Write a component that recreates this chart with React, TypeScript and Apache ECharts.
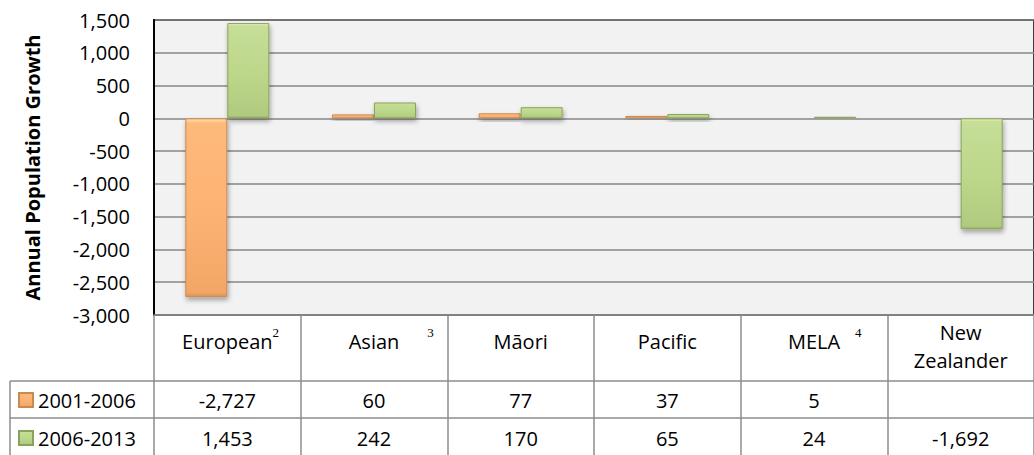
import React, { useEffect, useRef } from "react";
import * as echarts from "echarts";

const categories = ["European", "Asian", "Māori", "Pacific", "MELA", "New\nZealander"];
const footnotes = ["2", "3", "", "", "4", ""];
const seriesNames = ["2001-2006", "2006-2013"];
const values2001 = [-2727, 60, 77, 37, 5, null];
const values2006 = [1453, 242, 170, 65, 24, -1692];
const yMin = -3000;
const yMax = 1500;
const yInterval = 500;

const FONT = "Open Sans";
const GRID_LINE = "#868686";
const TABLE_LINE = "#8C8C8C";

// gap between word and its footnote mark (layout only)
const footGap: Record<string, number> = { "2": 0, "3": 28, "4": 15 };

const fmt = (v: number | null) => (v === null || v === undefined ? "" : v.toLocaleString("en-US"));

const orange = new echarts.graphic.LinearGradient(0, 0, 0, 1, [
  { offset: 0, color: "#FFE3AA" },
  { offset: 0.025, color: "#FDB97B" },
  { offset: 0.5, color: "#FDB374" },
  { offset: 0.975, color: "#F2A766" },
  { offset: 1, color: "#D99358" },
]);
const green = new echarts.graphic.LinearGradient(0, 0, 0, 1, [
  { offset: 0, color: "#EAF5C0" },
  { offset: 0.025, color: "#C6DE97" },
  { offset: 0.5, color: "#BDD78B" },
  { offset: 0.975, color: "#B0CA7F" },
  { offset: 1, color: "#98B268" },
]);

export default function App() {
  const ref = useRef<HTMLDivElement>(null);
  useEffect(() => {
    if (!ref.current) return;
    const chart = echarts.init(ref.current, null, { renderer: "svg" });

    const rich: any = {
      c: { fontSize: 20, fontFamily: FONT, color: "#000", lineHeight: 21, padding: [0, 0, 11, 0] },
      n: { fontSize: 20, fontFamily: FONT, color: "#000", lineHeight: 28 },
    };
    categories.forEach((_, i) => {
      const f = footnotes[i];
      if (!f) return;
      const gap = footGap[f] ?? 0;
      const w = gap + 6.5;
      rich["s" + i] = {
        fontSize: 13,
        fontFamily: "Liberation Serif",
        color: "#000",
        lineHeight: 13,
        padding: [0, 0, 28, gap],
      };
      rich["l" + i] = { width: w, fontSize: 13, lineHeight: 13 };
    });

    const catFormatter = (_v: string, i: number) => {
      const name = categories[i];
      if (name.includes("\n")) {
        return name
          .split("\n")
          .map((p) => `{n|${p}}`)
          .join("\n");
      }
      const f = footnotes[i];
      if (f) return `{l${i}| }{c|${name}}{s${i}|${f}}`;
      return `{c|${name}}`;
    };

    const rowAxis = (vals: (number | null)[], offset: number, margin: number) => ({
      type: "category",
      gridIndex: 0,
      position: "bottom",
      offset,
      data: categories,
      axisLine: { show: true, onZero: false, lineStyle: { color: TABLE_LINE, width: 1.5 } },
      axisTick: { show: false },
      axisLabel: {
        interval: 0,
        margin,
        verticalAlign: "middle",
        fontSize: 20,
        fontFamily: FONT,
        color: "#000",
        formatter: (_v: string, i: number) => fmt(vals[i]),
      },
      splitLine: { show: false },
    });

    chart.setOption({
      animation: false,
      backgroundColor: "#fff",
      textStyle: { fontFamily: FONT },
      grid: {
        left: 154,
        right: -14,
        top: 20,
        bottom: 140,
        show: true,
        backgroundColor: "#F2F2F2",
        borderColor: "#000",
        borderWidth: 1.5,
      },
      legend: {
        orient: "vertical",
        left: 18,
        top: 388,
        height: 120,
        padding: 0,
        itemWidth: 14,
        itemHeight: 14,
        itemGap: 14,
        icon: "rect",
        data: seriesNames,
        textStyle: { fontSize: 20, fontFamily: FONT, color: "#000", lineHeight: 24 },
      },
      xAxis: [
        {
          type: "category",
          gridIndex: 0,
          position: "bottom",
          data: categories,
          axisLine: { show: true, onZero: false, lineStyle: { color: GRID_LINE, width: 1.5 } },
          axisTick: { show: true, length: 141, interval: 0, lineStyle: { color: TABLE_LINE, width: 1.5 } },
          axisLabel: {
            interval: 0,
            margin: 31.5,
            verticalAlign: "middle",
            align: "center",
            formatter: catFormatter,
            rich,
          },
          splitLine: { show: false },
        },
        rowAxis(values2001, 66, 19),
        rowAxis(values2006, 103, 20),
      ],
      yAxis: {
        type: "value",
        min: yMin,
        max: yMax,
        interval: yInterval,
        name: "Annual Population Growth",
        nameLocation: "middle",
        nameRotate: 90,
        nameGap: 112,
        nameTextStyle: { fontSize: 20, fontWeight: "bold", fontFamily: FONT, color: "#000" },
        axisLine: { show: true, onZero: false, lineStyle: { color: "#000", width: 2 } },
        axisTick: { show: false },
        axisLabel: {
          margin: 24,
          fontSize: 20,
          fontFamily: FONT,
          color: "#000",
          formatter: (v: number) => fmt(v),
        },
        splitLine: { show: true, lineStyle: { color: GRID_LINE, width: 1.5 } },
      },
      series: [
        {
          name: seriesNames[0],
          type: "bar",
          xAxisIndex: 0,
          data: values2001,
          barWidth: 42,
          barGap: "0%",
          itemStyle: {
            color: orange,
            borderColor: "#C98A52",
            borderWidth: 1,
            shadowColor: "rgba(0,0,0,0.35)",
            shadowBlur: 5,
            shadowOffsetX: 1,
            shadowOffsetY: 3,
          },
        },
        {
          name: seriesNames[1],
          type: "bar",
          xAxisIndex: 0,
          data: values2006,
          barWidth: 42,
          barGap: "0%",
          itemStyle: {
            color: green,
            borderColor: "#8AA35A",
            borderWidth: 1,
            shadowColor: "rgba(0,0,0,0.35)",
            shadowBlur: 5,
            shadowOffsetX: 1,
            shadowOffsetY: 3,
          },
        },
      ],
      graphic: [
        { type: "line", shape: { x1: 10, y1: 381, x2: 154, y2: 381 }, style: { stroke: TABLE_LINE, lineWidth: 1.5 } },
        { type: "line", shape: { x1: 10, y1: 418, x2: 154, y2: 418 }, style: { stroke: TABLE_LINE, lineWidth: 1.5 } },
        { type: "line", shape: { x1: 10, y1: 381, x2: 10, y2: 460 }, style: { stroke: TABLE_LINE, lineWidth: 1.5 } },
      ],
    });
    return () => chart.dispose();
  }, []);
  return (
    <div
      ref={ref}
      style={{ position: "fixed", left: 0, top: 0, width: 1034, height: 455, background: "#fff" }}
    />
  );
}
